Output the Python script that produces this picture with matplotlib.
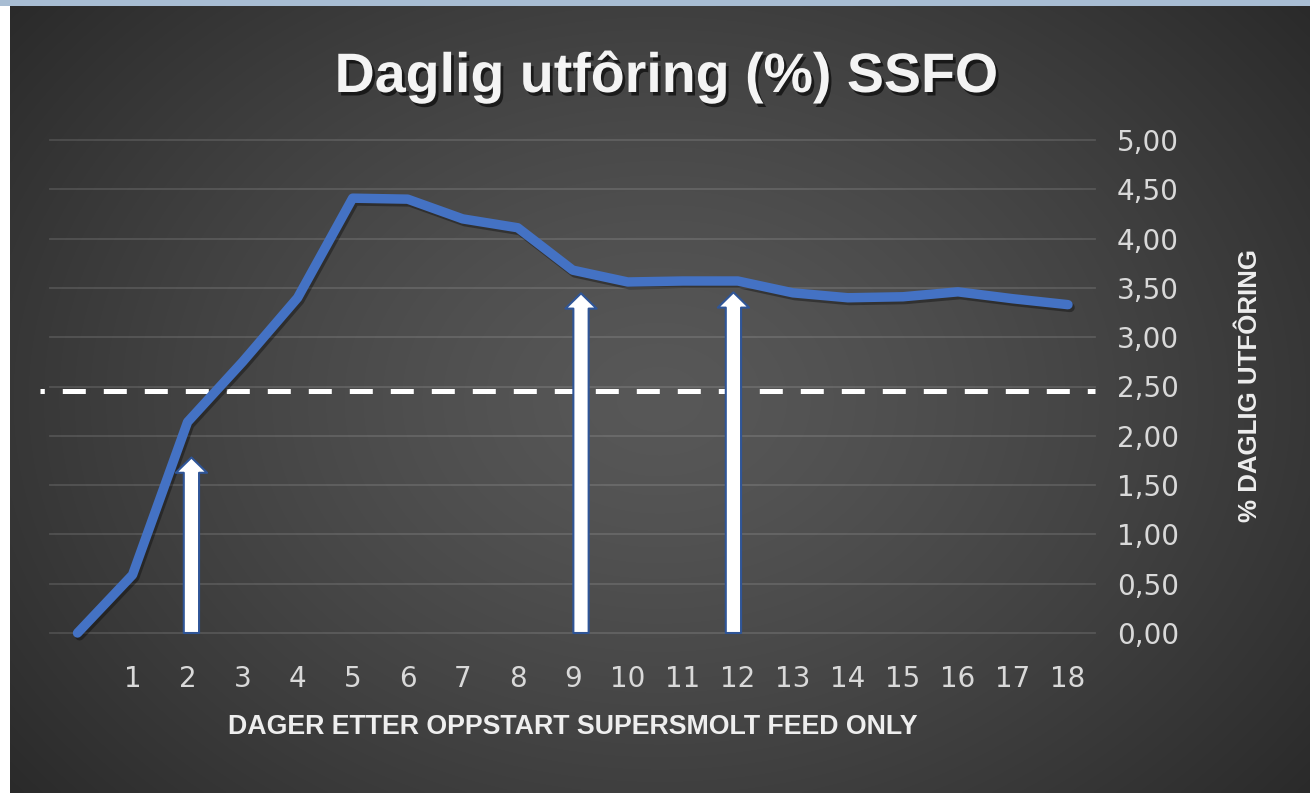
import matplotlib
matplotlib.use('Agg')
import matplotlib.pyplot as plt
import matplotlib.patheffects as pe
from matplotlib.patches import Rectangle
import numpy as np

# data
days = list(range(0, 19))
feed_pct = [0.00, 0.59, 2.14, 2.75, 3.40, 4.41, 4.40, 4.20, 4.11, 3.68,
            3.56, 3.57, 3.57, 3.45, 3.40, 3.41, 3.46, 3.39, 3.33]
x_tick_days = list(range(1, 19))
y_ticks = [0.0, 0.5, 1.0, 1.5, 2.0, 2.5, 3.0, 3.5, 4.0, 4.5, 5.0]
threshold = 2.45
arrow_days = [2.07, 9.15, 11.92]
arrow_tips = [1.78, 3.445, 3.455]

title = 'Daglig utfôring (%) SSFO'
x_title = 'DAGER ETTER OPPSTART SUPERSMOLT FEED ONLY'
y_title = '% DAGLIG UTFÔRING'

W, H = 1310, 793
fig = plt.figure(figsize=(W / 100, H / 100), dpi=100, facecolor='white')

# dark radial-gradient background
bg = fig.add_axes([10 / W, 0, 1 - 10 / W, 1 - 6 / H], zorder=-10)
gx, gy = np.meshgrid(np.linspace(-1, 1, 650), np.linspace(-1, 1, 400))
r = np.sqrt(gx ** 2 + (gy * 0.8) ** 2)
v = 0.345 - 0.13 * r ** 1.3
bg.imshow(np.dstack([v, v, v]), aspect='auto', extent=[0, 1, 0, 1],
          interpolation='bicubic')
bg.set_axis_off()
fig.patches.append(Rectangle((0, 1 - 6 / H), 1, 6 / H, transform=fig.transFigure,
                             facecolor='#a8bdd3', edgecolor='none', zorder=-5))

ax = fig.add_axes([50 / W, 160 / H, 1045.5 / W, 493 / H])
ax.set_facecolor('none')
ax.set_xlim(-0.5, 18.5)
ax.set_ylim(0, 5)

for yt in y_ticks:
    ax.axhline(yt, color='white', alpha=0.13, lw=1.3, zorder=1, clip_on=False)

ax.plot([-0.69, 18.5], [threshold, threshold], color='white', lw=3.6,
        linestyle=(3.74, (4.6, 3.6)), zorder=2, clip_on=False)

ax.plot(days, feed_pct, color='#4472C4', lw=6.8, solid_capstyle='round',
        solid_joinstyle='round', zorder=3, clip_on=False,
        path_effects=[pe.SimpleLineShadow(offset=(1.5, -2), alpha=0.35),
                      pe.Normal()])

for xd, tip in zip(arrow_days, arrow_tips):
    ax.annotate('', xy=(xd, tip), xytext=(xd, 0), annotation_clip=False,
                arrowprops=dict(arrowstyle='simple,head_length=11,head_width=22.5,tail_width=11',
                                mutation_scale=1, fc='white', ec='#2F5597', lw=1.5,
                                shrinkA=0, shrinkB=0),
                zorder=4)

ax.set_xticks(x_tick_days)
ax.set_xticklabels([str(d) for d in x_tick_days])
ax.set_yticks(y_ticks)
ax.set_yticklabels([f'{t:.2f}'.replace('.', ',') for t in y_ticks])
ax.yaxis.tick_right()
ax.tick_params(axis='both', length=0, labelsize=20, labelcolor='#d9d9d9')
ax.tick_params(axis='x', pad=23)
ax.tick_params(axis='y', pad=15.5)
for s in ax.spines.values():
    s.set_visible(False)

fig.text(666 / W, 1 - 92 / H, title, ha='center', va='baseline', fontsize=40,
         fontweight='bold', color='#f4f4f4', family=['Liberation Sans', 'DejaVu Sans'],
         path_effects=[pe.withSimplePatchShadow(offset=(2, -2.5), shadow_rgbFace='black',
                                                alpha=0.6)])
fig.text(573 / W, 1 - 727 / H, x_title, ha='center', va='center', fontsize=19.3,
         fontweight='bold', color='#eeeeee', family=['Liberation Sans', 'DejaVu Sans'])
fig.text(1250 / W, 1 - 386 / H, y_title, ha='center', va='center', rotation=90,
         fontsize=18.6, fontweight='bold', color='#eeeeee',
         family=['Liberation Sans', 'DejaVu Sans'])

fig.savefig('out.png', dpi=100, facecolor='white')
